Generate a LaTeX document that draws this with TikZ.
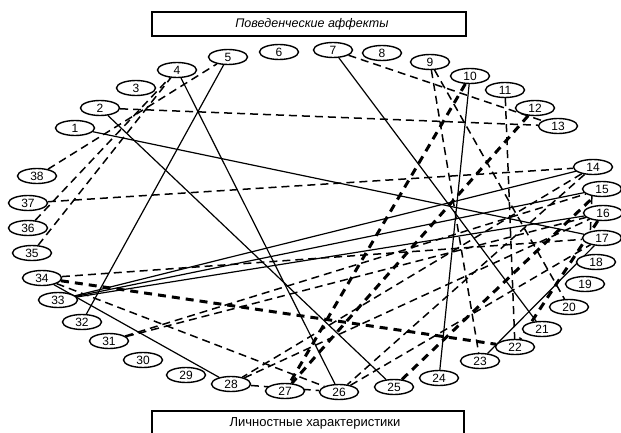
\documentclass[tikz,border=0pt]{standalone}
\usepackage{fontspec}
\setmainfont{Liberation Sans}
\usetikzlibrary{shapes.geometric,backgrounds}
\begin{document}
\begin{tikzpicture}[x=1pt,y=-1pt,
  nd/.style={ellipse,draw,line width=1.4pt,minimum width=39pt,minimum height=15pt,inner sep=0pt,font=\fontsize{12}{12}\selectfont,fill=white},
  sl/.style={line width=1.2pt},
  dl/.style={line width=1.5pt,dash pattern=on 8pt off 5pt},
  tl/.style={line width=3pt,dash pattern=on 8pt off 6pt},
  box/.style={line width=1.6pt}]
\useasboundingbox (0,0) rectangle (621,433);
% boxes
\draw[box] (152,12) rectangle (466,36);
\node (t1) at (312,24) {\fontsize{12.5}{12.5}\selectfont\itshape Поведенческие аффекты};
\draw[box] (152,440) -- (152,411) -- (464,411) -- (464,440);
\node (t2) at (315,423) {\fontsize{13}{13}\selectfont\upshape Личностные характеристики};
% nodes
\node[nd] (n1) at (75,128) {1};
\node[nd] (n2) at (100,108) {2};
\node[nd] (n3) at (136,88) {3};
\node[nd] (n4) at (177,70) {4};
\node[nd] (n5) at (228,57) {5};
\node[nd] (n6) at (279,52) {6};
\node[nd] (n7) at (333,50) {7};
\node[nd] (n8) at (382,53) {8};
\node[nd] (n9) at (430,62) {9};
\node[nd] (n10) at (470,76) {10};
\node[nd] (n11) at (505,90) {11};
\node[nd] (n12) at (535,108) {12};
\node[nd] (n13) at (558,126) {13};
\node[nd] (n14) at (593,167) {14};
\node[nd] (n15) at (602,189) {15};
\node[nd] (n16) at (603,213) {16};
\node[nd] (n17) at (602,238) {17};
\node[nd] (n18) at (596,262) {18};
\node[nd] (n19) at (585,284) {19};
\node[nd] (n20) at (569,307) {20};
\node[nd] (n21) at (542,329) {21};
\node[nd] (n22) at (515,347) {22};
\node[nd] (n23) at (480,361) {23};
\node[nd] (n24) at (439,378) {24};
\node[nd] (n25) at (394,387) {25};
\node[nd] (n26) at (339,392) {26};
\node[nd] (n27) at (285,391) {27};
\node[nd] (n28) at (231,384) {28};
\node[nd] (n29) at (186,375) {29};
\node[nd] (n30) at (143,360) {30};
\node[nd] (n31) at (109,341) {31};
\node[nd] (n32) at (82,322) {32};
\node[nd] (n33) at (58,300) {33};
\node[nd] (n34) at (42,278) {34};
\node[nd] (n35) at (32,253) {35};
\node[nd] (n36) at (28,228) {36};
\node[nd] (n37) at (28,203) {37};
\node[nd] (n38) at (37,176) {38};
\begin{scope}[on background layer]
% solid
\draw[sl] (n1) -- (n17);
\draw[sl] (n2) -- (n25);
\draw[sl] (n4) -- (n26);
\draw[sl] (n5) -- (n32);
\draw[sl] (n7) -- (n21);
\draw[sl] (n10) -- (n24);
\draw[sl] (n33) -- (n14);
\draw[sl] (n33) -- (n15);
\draw[sl] (n33) -- (n16);
\draw[sl] (n34) -- (n28);
\draw[sl] (n23) -- (n17);
% dashed
\draw[dl] (n2) -- (n13);
\draw[dl] (n7) -- (n13);
\draw[dl] (n38) -- (n5);
\draw[dl] (n36) -- (n4);
\draw[dl] (n35) -- (n4);
\draw[dl] (n37) -- (n14);
\draw[dl] (n9) -- (n23);
\draw[dl] (n9) -- (n20);
\draw[dl] (n11) -- (n22);
\draw[dl] (n34) -- (n17);
\draw[dl] (n34) -- (n26);
\draw[dl] (n31) -- (n15);
\draw[dl] (n31) -- (n16);
\draw[dl] (n28) -- (n26);
\draw[dl] (n28) -- (n16);
\draw[dl] (n14) -- (n28);
\draw[dl] (n14) -- (n26);
\draw[dl] (n26) -- (n17);
\draw[dl] (n15.215) -- (n17.150);
% thick dashed
\draw[tl] (n10) -- (n27);
\draw[tl] (n12) -- (n27);
\draw[tl] (n34) -- (n22);
\draw[tl] (n16) -- (n22);
\draw[tl] (n25) -- (n15);
\end{scope}
\end{tikzpicture}
\end{document}
